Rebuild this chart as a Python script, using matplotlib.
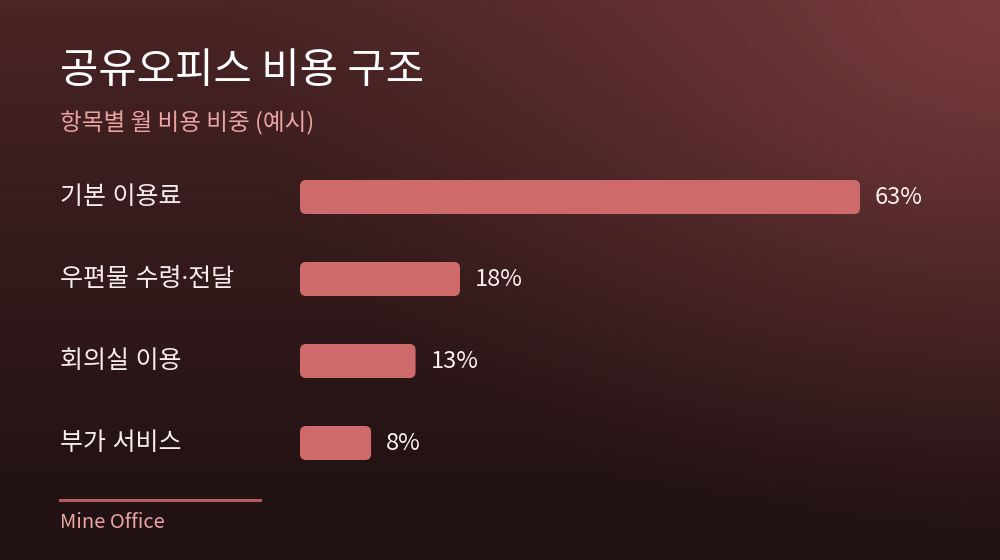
import numpy as np
import matplotlib
matplotlib.use("Agg")
import matplotlib.pyplot as plt
from matplotlib.patches import FancyBboxPatch
from matplotlib.lines import Line2D
import matplotlib.transforms as mtransforms

plt.rcParams['font.family'] = ['Noto Sans CJK KR', 'DejaVu Sans']

categories = ["기본 이용료", "우편물 수령·전달", "회의실 이용", "부가 서비스"]
values = [63, 18, 13, 8]
value_labels = ["63%", "18%", "13%", "8%"]
title = "공유오피스 비용 구조"
subtitle = "항목별 월 비용 비중 (예시)"
footer = "Mine Office"

W, H = 1000, 560
fig = plt.figure(figsize=(W / 100, H / 100), dpi=100)

# background gradient
yy, xx = np.mgrid[0:H, 0:W]
top = np.array([0x4c, 0x25, 0x26]) / 255
bot = np.array([0x22, 0x12, 0x13]) / 255
t = (yy / H)[..., None]
t = np.clip(t * 1.12, 0, 1) ** 0.85
base = top * (1 - t) + bot * t
glow_c = np.array([0x7a, 0x3b, 0x3d]) / 255
d = np.sqrt(((xx - W) / 1.0) ** 2 + (yy * 1.4) ** 2)
g = np.clip(1 - d / 780, 0, 1)[..., None] ** 1.3
img = base * (1 - g) + glow_c * g
bg = fig.add_axes([0, 0, 1, 1])
bg.imshow(img, aspect='auto', extent=[0, W, H, 0], interpolation='bilinear')
bg.set_xlim(0, W)
bg.set_ylim(H, 0)
bg.axis('off')

# bar axes: x from 300px to 900px, bands of 82px from y=156 to 484
px_per_unit = 560 / 63.0
ax_left, ax_right = 300, 900
ax_top, ax_bot = 156, 484
ax = fig.add_axes([ax_left / W, 1 - ax_bot / H, (ax_right - ax_left) / W, (ax_bot - ax_top) / H])
ax.set_xlim(0, (ax_right - ax_left) / px_per_unit)
ax.set_ylim(len(categories) - 0.5, -0.5)
ax.axis('off')
ax.patch.set_alpha(0)

band_px = (ax_bot - ax_top) / len(categories)
bar_h = 34 / band_px
radius_px = 6
aspect = px_per_unit / band_px
bar_color = "#cf6a6a"

trans_lab = mtransforms.blended_transform_factory(fig.transFigure, ax.transData)
for i, (cat, v, lab) in enumerate(zip(categories, values, value_labels)):
    p = FancyBboxPatch((0, i - bar_h / 2), v, bar_h,
                       boxstyle=f"round,pad=0,rounding_size={radius_px / px_per_unit}",
                       mutation_aspect=aspect, facecolor=bar_color, edgecolor='none')
    ax.add_patch(p)
    ax.text(v + 15 / px_per_unit, i, lab, color="#fbeff0", fontsize=17,
            va='center', ha='left')
    fig.text(60 / W, i, cat, transform=trans_lab, color="#f6ecee", fontsize=18,
             va='center', ha='left', family=['Noto Sans', 'Noto Sans CJK KR'])

fig.text(60 / W, 1 - 71 / H, title, color="white", fontsize=30, fontweight='medium',
         va='center', ha='left')
fig.text(60 / W, 1 - 123 / H, subtitle, color="#eaa3a3", fontsize=17,
         va='center', ha='left')

fig.add_artist(Line2D([60 / W, 260 / W], [1 - 500 / H, 1 - 500 / H],
                      transform=fig.transFigure, color="#b55c5e", linewidth=2.2))
fig.text(60 / W, 1 - 522 / H, footer, color="#e9a3a5", fontsize=14.5,
         va='center', ha='left')

fig.savefig("out.png", dpi=100)
